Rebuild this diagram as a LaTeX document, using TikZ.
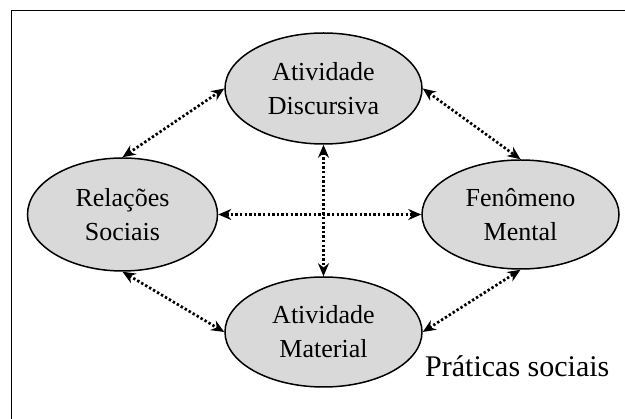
\documentclass[tikz,border=0pt]{standalone}
\usepackage{fontspec}
\setmainfont{Liberation Serif}
\usetikzlibrary{arrows.meta,shapes.geometric}
\definecolor{ellfill}{HTML}{D9D9D9}
\begin{document}
\begin{tikzpicture}[x=1pt,y=-1pt,
  ell/.style={ellipse,draw=black,line width=1.5pt,fill=ellfill,inner sep=0pt,
    minimum width=197pt,minimum height=111pt,align=center,
    font=\fontsize{26}{34}\selectfont},
  link/.style={line width=2.7pt,dash pattern=on 2.4pt off 2.2pt,
    {Stealth[length=13pt,width=11pt]}-{Stealth[length=13pt,width=11pt]}}]
\useasboundingbox (0,0) rectangle (625,419);
\coordinate (frameTL) at (11.5,10.5);
\coordinate (frameTR) at (625,10.5);
\coordinate (frameBL) at (11.5,419);
\draw[line width=1.8pt] (frameBL) -- (frameTL) -- (frameTR);
\node[ell] (disc) at (323.5,88.5) {Atividade\\Discursiva};
\node[ell,minimum width=190pt,minimum height=113pt] (rel) at (122.5,214.5) {Relações\\Sociais};
\node[ell,minimum height=109pt] (fen) at (520.5,214.5) {Fenômeno\\Mental};
\node[ell,minimum height=110pt] (mat) at (323.5,332) {Atividade\\Material};
\draw[link] (rel.north) -- (disc.west);
\draw[link] (disc.east) -- (fen.north);
\draw[link] (rel.east) -- (fen.west);
\draw[link] (disc.south) -- (mat.north);
\draw[link] (rel.south) -- (mat.west);
\draw[link] (mat.east) -- (fen.south);
\node[anchor=base west,inner sep=0pt,font=\fontsize{30}{36}\selectfont] (prat) at (425,377) {Práticas sociais};
\end{tikzpicture}
\end{document}
